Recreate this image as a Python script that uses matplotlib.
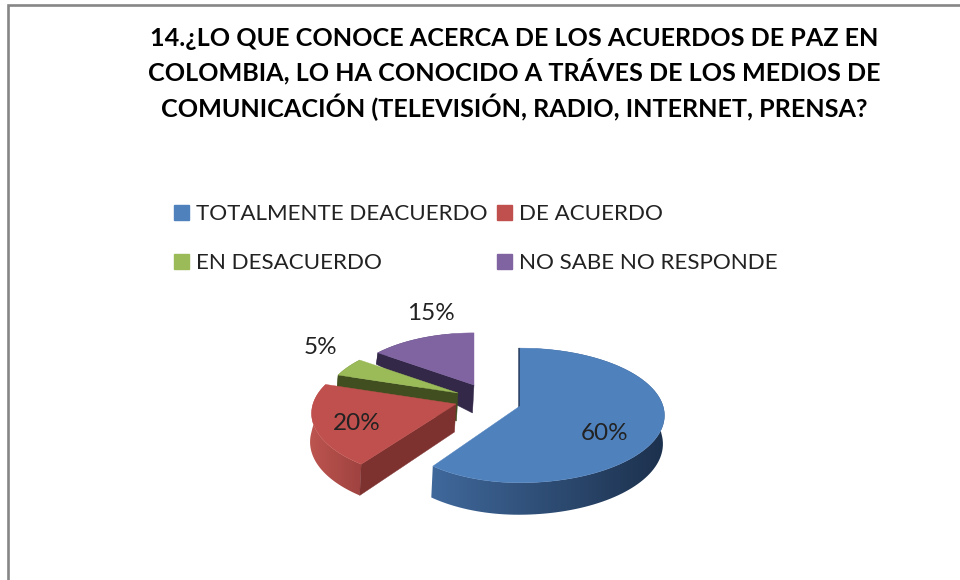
import numpy as np
import matplotlib
matplotlib.use('Agg')
import matplotlib.pyplot as plt
from matplotlib.patches import Patch, Polygon

plt.rcParams['font.family'] = ['Lato', 'DejaVu Sans']

title = ('14.¿LO QUE CONOCE ACERCA DE LOS ACUERDOS DE PAZ EN\n'
         'COLOMBIA, LO HA CONOCIDO A TRÁVES DE LOS MEDIOS DE\n'
         'COMUNICACIÓN (TELEVISIÓN, RADIO, INTERNET, PRENSA?')
categories = ['TOTALMENTE DEACUERDO', 'DE ACUERDO', 'EN DESACUERDO', 'NO SABE NO RESPONDE']
values = [60, 20, 5, 15]

colors = ['#4F81BD', '#C0504D', '#9BBB59', '#8064A2']
cut_colors = ['#233A5C', '#7E3230', '#414F20', '#332848']
wall_left = [(0.25, 0.41, 0.61), (0.74, 0.33, 0.31), (0.3, 0.38, 0.15), (0.2, 0.16, 0.28)]
wall_right = [(0.11, 0.19, 0.30), (0.62, 0.26, 0.25), (0.3, 0.38, 0.15), (0.2, 0.16, 0.28)]

# exploded centres and size of each slice, in pixels
apex_x = [520, 456, 458, 474]
apex_y = [406, 404, 393, 385]
scale = [1.0, 1.0, 0.92, 0.90]
left_scale = [0.92, 1.0, 1.0, 1.0]
label_x = [605, 357, 320, 431]
label_y = [433, 423, 348, 313]

R = 143
SQUASH = 66
K = 0.14


def rim(theta, cx, cy, sc, sl):
    # perspective ellipse, theta clockwise from the top
    u = np.sin(theta)
    v = np.cos(theta)
    s = 1 / (1 + K * v)
    return cx + sc * R * u * s * np.where(u < 0, sl, 1), cy - sc * SQUASH * v * s


def depth(v):
    return np.where(v > 0, 28 * (1 - v), 28 - 4 * v)


fig = plt.figure(figsize=(9.6, 5.8), dpi=100)
ax = fig.add_axes([0, 0, 1, 1])
ax.set_xlim(0, 960)
ax.set_ylim(580, 0)
ax.autoscale(False)
ax.axis('off')

ax.plot([7.5, 7.5, 960], [580, 5, 5], color='#868686', lw=1.9, solid_joinstyle='miter')

ax.text(514, 74, title, ha='center', va='center', fontsize=18.1, fontweight='bold',
        color='black', linespacing=1.36)

handles = [Patch(color=c) for c in colors]
order = [0, 2, 1, 3]
ax.legend([handles[i] for i in order], [categories[i] for i in order], ncol=2,
          loc='upper left', bbox_to_anchor=(0.181, 0.648), frameon=False,
          fontsize=16.1, labelcolor='#222222', handlelength=0.67, handleheight=0.67,
          handletextpad=0.33, columnspacing=0.4, labelspacing=1.29, borderpad=0, borderaxespad=0)

ends = np.cumsum(values) / np.sum(values) * 2 * np.pi
starts = ends - np.array(values) / np.sum(values) * 2 * np.pi

# back slices first
for i in [3, 2, 1, 0]:
    cx, cy, sc = apex_x[i], apex_y[i], scale[i]
    th = np.linspace(starts[i], ends[i], 120)
    x, y = rim(th, cx, cy, sc, left_scale[i])
    d = depth(np.cos(th))

    # outer wall, one clipped gradient from left to right
    grad = np.linspace(0, 1, 256)[None, :, None]
    img = np.array(wall_left[i])[None, None, :] * (1 - grad) + np.array(wall_right[i])[None, None, :] * grad
    wall = Polygon(np.c_[np.r_[x, (x - 1.5)[::-1]], np.r_[y, (y + d)[::-1]]], closed=True,
                   transform=ax.transData, fc='none', ec='none')
    ax.add_patch(wall)
    im = ax.imshow(img, extent=[x.min() - 2, x.max() + 1, (y + d).max() + 1, y.min() - 1],
                   aspect='auto', zorder=2 + (3 - i) * 0.1)
    im.set_clip_path(wall)

    # only the cut face at the start of each slice looks to the viewer
    ax.fill([x[0], cx, cx - 1.5, x[0] - 1.5],
            [y[0], cy, cy + 28, y[0] + d[0]], color=cut_colors[i], lw=0.3,
            zorder=2.01 + (3 - i) * 0.1)

    # top face
    ax.fill(np.r_[cx, x], np.r_[cy, y], color=colors[i], lw=0.3, zorder=2.02 + (3 - i) * 0.1)

for i in range(len(values)):
    ax.text(label_x[i], label_y[i], '%d%%' % values[i], ha='center', va='center',
            fontsize=17.5, color='#222222', zorder=4)

fig.savefig('out.png', dpi=100)
